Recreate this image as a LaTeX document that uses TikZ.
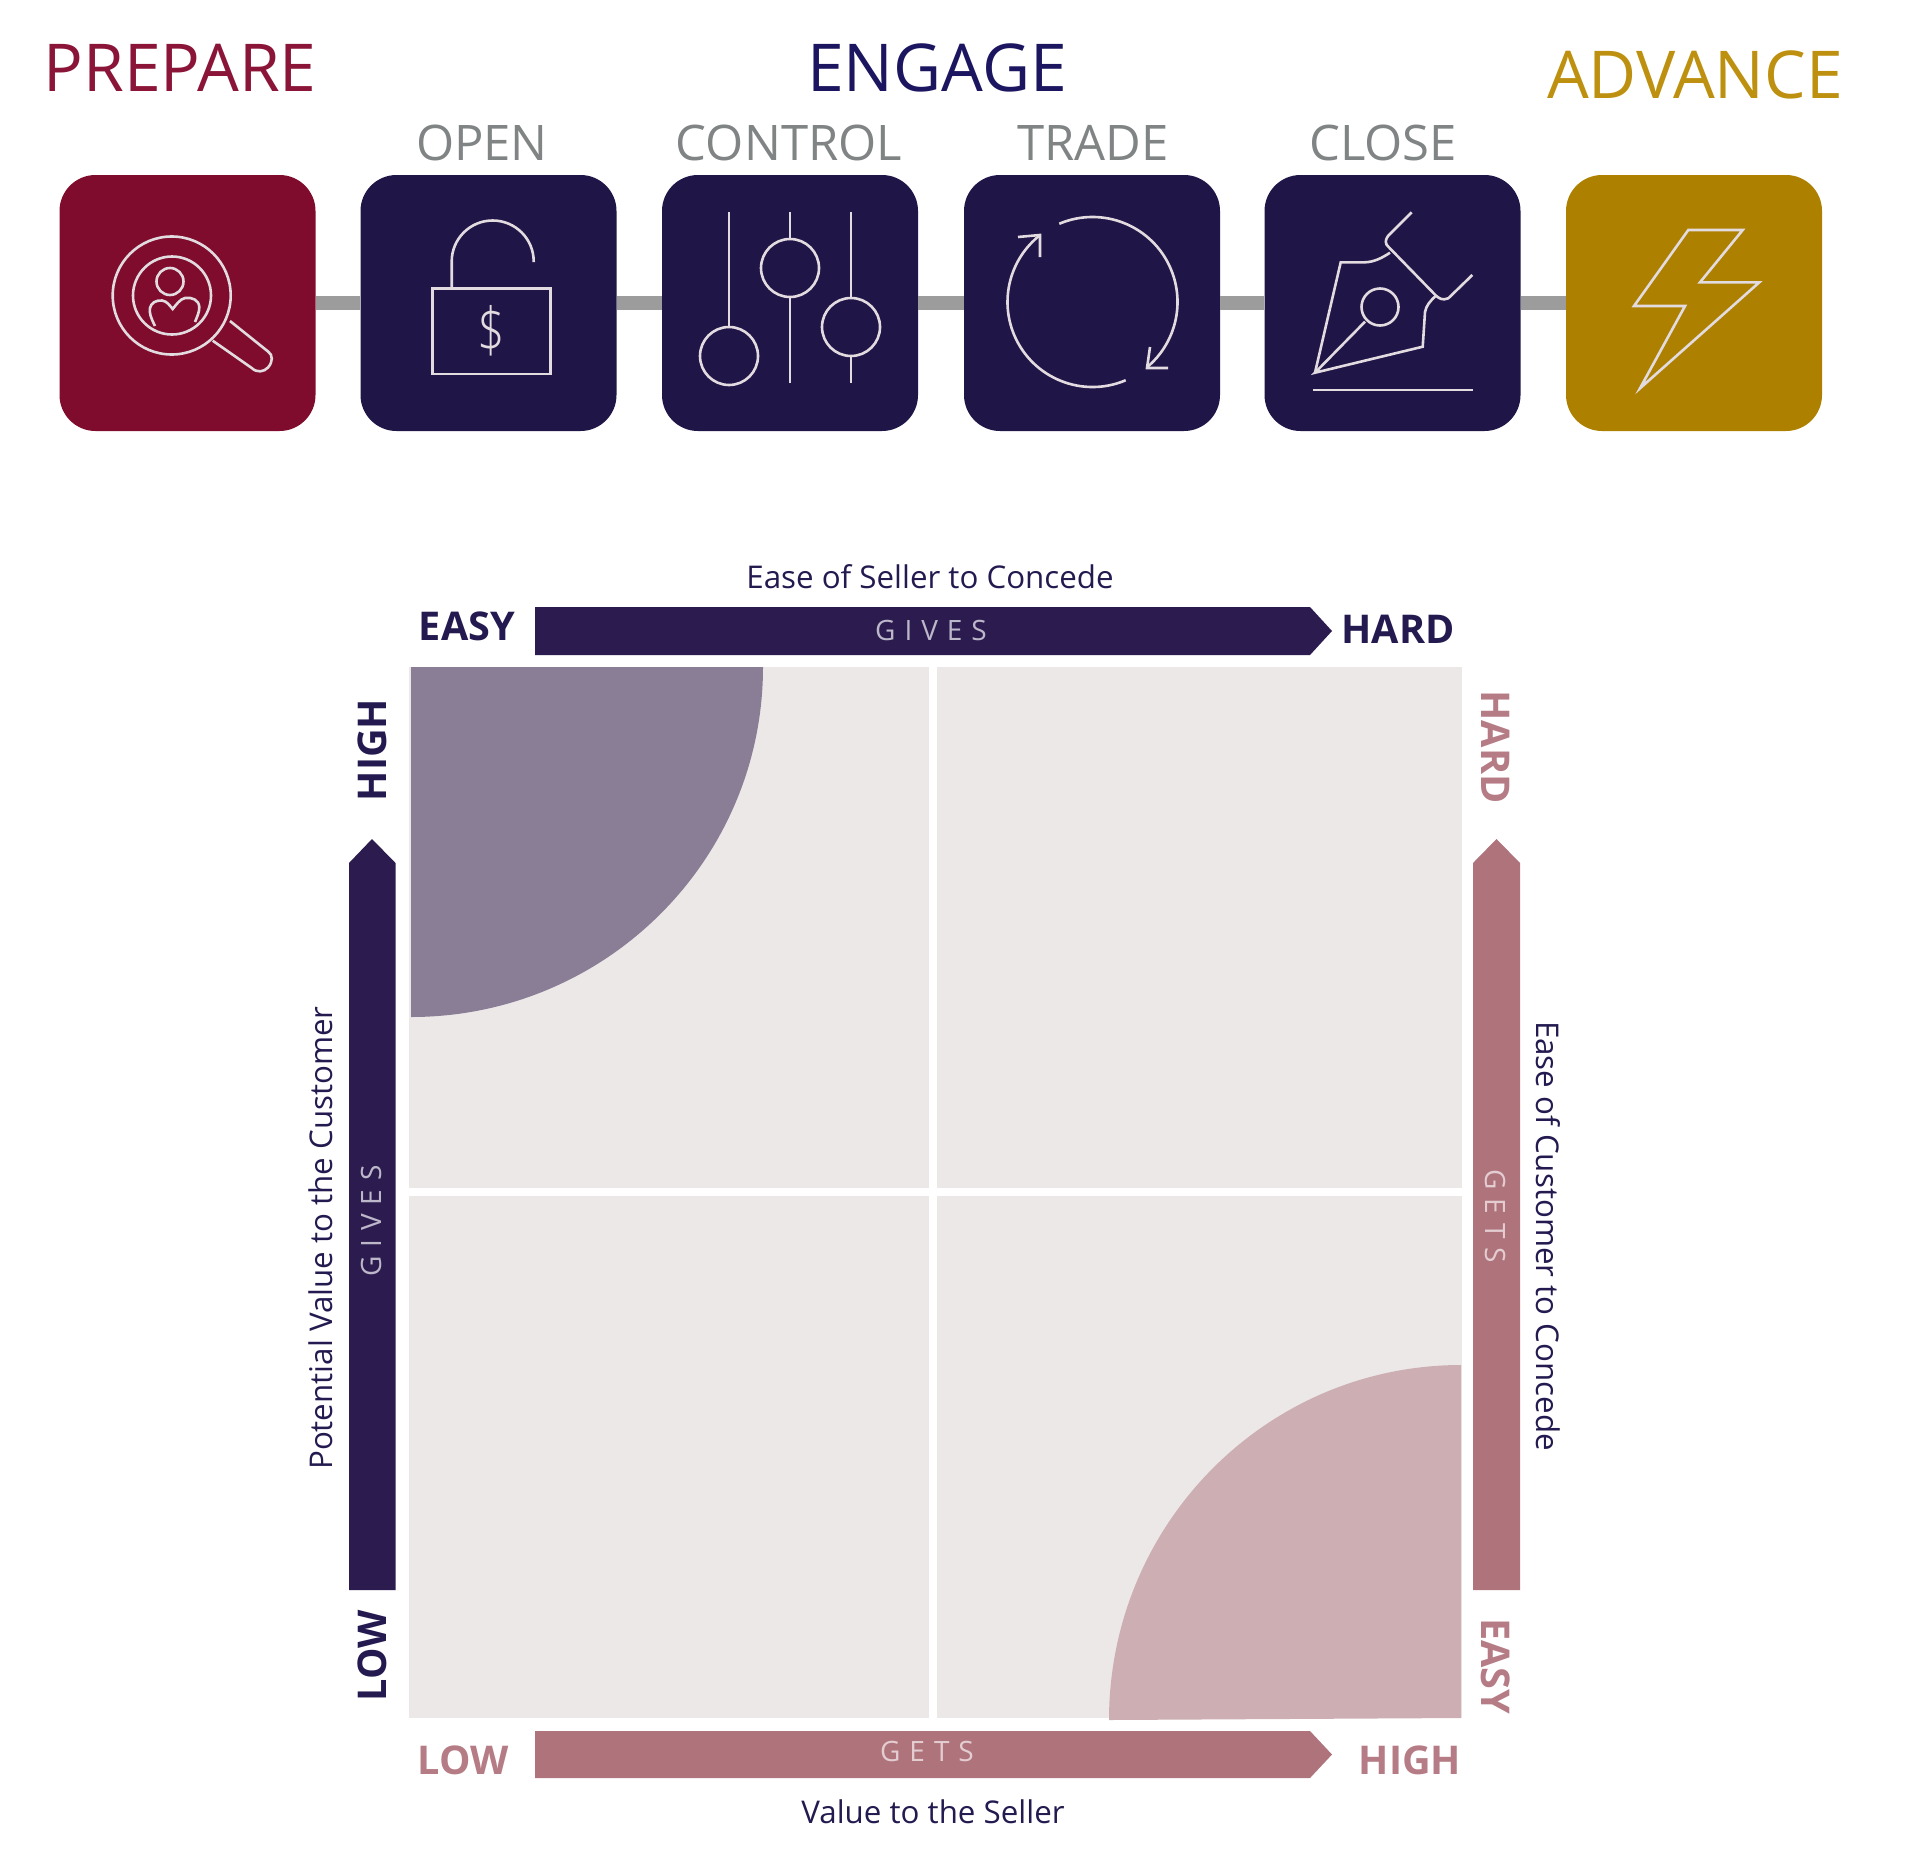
\documentclass[tikz,border=0pt]{standalone}
\usepackage{fontspec}
\setmainfont{Open Sans}
\newfontfamily\lightf{Open Sans Light}
\newfontfamily\spacedf[LetterSpace=32]{Open Sans}
\definecolor{cred}{HTML}{7F0C2C}
\definecolor{cnavy}{HTML}{201547}
\definecolor{cgold}{HTML}{AE8000}
\definecolor{cbar}{HTML}{9C9C9C}
\definecolor{cline}{HTML}{E2DBE0}
\definecolor{tprep}{HTML}{8A1538}
\definecolor{tengage}{HTML}{1C1560}
\definecolor{tadv}{HTML}{BE9010}
\definecolor{tgrey}{HTML}{808484}
\definecolor{cdark}{HTML}{2B1B4E}
\definecolor{cmat}{HTML}{ECE8E8}
\definecolor{cq}{HTML}{8A7E96}
\definecolor{cp}{HTML}{CDAFB3}
\definecolor{crose}{HTML}{AF737C}
\definecolor{tdark}{HTML}{241A50}
\definecolor{trose}{HTML}{B57C86}
\definecolor{tgives}{HTML}{BDB7CA}
\definecolor{tgets}{HTML}{E3CDD1}
\tikzset{
  tile/.style={minimum size=128pt,inner sep=0pt,rounded corners=18pt,fill=#1},
  link/.style={draw=cbar,line width=7pt},
  ico/.style={draw=cline,line width=1.3pt,line join=miter},
  big/.style={inner sep=0pt,font=\fontsize{33}{33}\selectfont},
  sub/.style={inner sep=0pt,text=tgrey,font=\fontsize{24.5}{24.5}\selectfont},
  ax/.style={inner sep=0pt,text=tdark,font=\fontsize{15.65}{15.65}\selectfont},
  endb/.style={inner sep=0pt,font=\bfseries\fontsize{19.8}{19.8}\selectfont},
  gg/.style={inner sep=0pt,font=\spacedf\fontsize{14}{14}\selectfont},
}
\begin{document}
\begin{tikzpicture}[x=0.5pt,y=0.5pt]
\useasboundingbox (0,0) rectangle (1920,-1868);
% tiles
\node[tile=cred]  (prep) at (187.5,-303) {};
\node[tile=cnavy] (open) at (488.5,-303) {};
\node[tile=cnavy] (ctrl) at (790,-303) {};
\node[tile=cnavy] (trad) at (1092,-303) {};
\node[tile=cnavy] (clos) at (1392.5,-303) {};
\node[tile=cgold] (adv)  at (1694,-303) {};
\draw[link] (prep) -- (open);
\draw[link] (open) -- (ctrl);
\draw[link] (ctrl) -- (trad);
\draw[link] (trad) -- (clos);
\draw[link] (clos) -- (adv);
% headings
\node[big,text=tprep]   (hp) at (180,-68) {PREPARE};
\node[big,text=tengage] (he) at (937,-68) {ENGAGE};
\node[big,text=tadv]    (ha) at (1695,-75) {ADVANCE};
\node[sub] (so) at (482,-143) {OPEN};
\node[sub] (sc) at (789,-143) {CONTROL};
\node[sub] (st) at (1093,-143) {TRADE};
\node[sub] (sl) at (1383,-143) {CLOSE};
% icon: magnifier
\draw[ico] (171.7,-295.5) circle[radius=59];
\draw[ico] (172,-295.5) circle[radius=39];
\draw[ico] (170,-281.5) circle[radius=13.5];
\draw[ico] (155,-326) .. controls (151,-318) and (149,-313) .. (150,-308) .. controls (151,-303) and (156,-300) .. (162,-300.5) .. controls (167,-301) and (170,-306) .. (172.7,-309) .. controls (176,-305) and (180,-299) .. (185,-298) .. controls (192,-297) and (199,-300) .. (199.3,-307) .. controls (199.5,-312) and (197,-317) .. (195,-322);
\draw[ico] (230,-321) -- (268.3,-351.7) .. controls (273,-355) and (273,-362) .. (268,-367.5) .. controls (264,-372) and (257,-373) .. (251.7,-368) -- (212.7,-340.7);
% icon: lock
\draw[ico] (432.7,-288.3) rectangle (550.7,-374);
\draw[ico] (451.7,-288) -- (451.7,-261.5) arc (180:0:41) -- (533.7,-262);
\node[inner sep=0pt,text=cline,xscale=.78,font=\lightf\fontsize{31}{31}\selectfont] (dollar) at (491.7,-331) {\$};
% icon: sliders
\draw[ico] (729,-212) -- (729,-327);
\draw[ico] (729,-356) circle[radius=29];
\draw[ico] (790,-212) -- (790,-239) (790,-297) -- (790,-383);
\draw[ico] (790,-268) circle[radius=29];
\draw[ico] (851,-212) -- (851,-298) (851,-355) -- (851,-383);
\draw[ico] (851,-327) circle[radius=29];
% icon: cycle
\draw[ico] (1092.5,-302) ++(113:85) arc (113:-50:85);
\draw[ico] (1168,-368) -- (1147,-368) -- (1150,-347);
\draw[ico] (1092.5,-302) ++(-67:85) arc (-67:-232:85);
\draw[ico] (1018,-237) -- (1040,-235) -- (1040,-257);
% icon: pen
\draw[ico] (1315,-372.7) -- (1340.7,-262.3) -- (1365,-262.3) .. controls (1374,-262) and (1382,-258) .. (1390,-252.7);
\draw[ico] (1411.7,-212.3) -- (1388,-236) .. controls (1385,-240) and (1385,-244) .. (1388.3,-246.7) -- (1436,-295.7) .. controls (1439,-298) and (1442,-301) .. (1448.3,-298.3) -- (1472.3,-275);
\draw[ico] (1436,-295.7) .. controls (1430,-301) and (1426,-306) .. (1425,-312) -- (1422.7,-346.7) -- (1315,-372.7) -- (1365,-321.7);
\draw[ico] (1380,-307) circle[radius=18.5];
\draw[ico] (1313,-390) -- (1472.7,-390);
% icon: bolt
\draw[ico] (1688.3,-230) -- (1742.7,-230) -- (1700,-282.3) -- (1759.3,-282.3) -- (1640,-388.3) -- (1685,-306) -- (1634,-306) -- cycle;
% matrix
\fill[cmat] (409,-667) rectangle (929,-1188);
\fill[cmat] (937,-667) rectangle (1462,-1188);
\fill[cmat] (409,-1196) rectangle (929,-1718);
\fill[cmat] (937,-1196) rectangle (1462,-1718);
\fill[cq] (411,-667) -- (763,-667) arc[start angle=0,end angle=-90,x radius=352,y radius=350] -- cycle;
\fill[cp] (1461,-1718) -- (1109,-1720) arc[start angle=180,end angle=90,x radius=352,y radius=355] -- cycle;
% arrows
\fill[cdark] (535,-607) -- (1310,-607) -- (1332,-631) -- (1310,-655) -- (535,-655) -- cycle;
\fill[crose] (535,-1731) -- (1310,-1731) -- (1332,-1754.5) -- (1310,-1778) -- (535,-1778) -- cycle;
\fill[cdark] (349,-1590) -- (349,-863) -- (372,-839) -- (395.5,-863) -- (395.5,-1590) -- cycle;
\fill[crose] (1473,-1590) -- (1473,-863) -- (1496.5,-839) -- (1520,-863) -- (1520,-1590) -- cycle;
\node[gg,text=tgives] (g1) at (931,-630) {GIVES};
\node[gg,text=tgets] (g2) at (927,-1751) {GETS};
\node[gg,text=tgives,rotate=90] (g3) at (371,-1221) {GIVES};
\node[gg,text=tgets,rotate=-90] (g4) at (1495,-1216) {GETS};
% axis labels
\node[ax] (a1) at (930,-577) {Ease of Seller to Concede};
\node[ax] (a2) at (933,-1812) {Value to the Seller};
\node[ax,rotate=90] (a3) at (321,-1238) {Potential Value to the Customer};
\node[ax,rotate=-90] (a4) at (1548,-1236) {Ease of Customer to Concede};
\node[endb,text=tdark] (e1) at (467,-626) {EASY};
\node[endb,text=tdark] (e2) at (1398,-629) {HARD};
\node[endb,text=trose] (e3) at (463,-1760) {LOW};
\node[endb,text=trose] (e4) at (1410,-1760) {HIGH};
\node[endb,text=tdark,rotate=90] (e5) at (372,-750) {HIGH};
\node[endb,text=tdark,rotate=90] (e6) at (372,-1656) {LOW};
\node[endb,text=trose,rotate=-90] (e7) at (1496,-747) {HARD};
\node[endb,text=trose,rotate=-90] (e8) at (1496,-1666) {EASY};
\end{tikzpicture}
\end{document}
